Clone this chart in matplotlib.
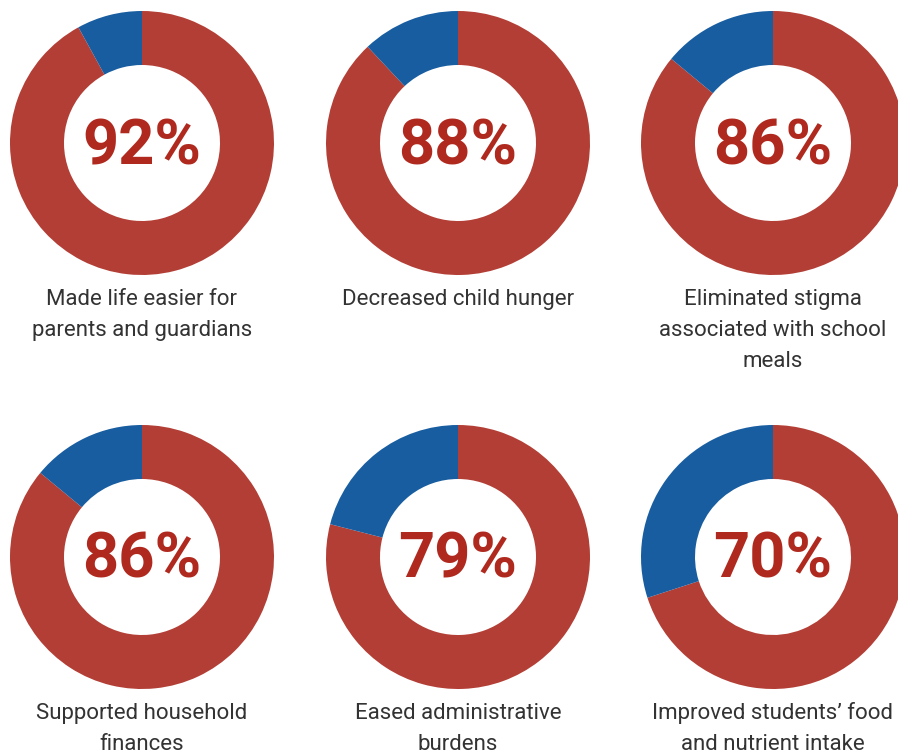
import matplotlib
matplotlib.use("Agg")
import matplotlib.pyplot as plt

plt.rcParams["font.family"] = ["Roboto", "DejaVu Sans"]

# share of respondents reporting each benefit
shares = [92, 88, 86, 86, 79, 70]
labels = [
    "Made life easier for\nparents and guardians",
    "Decreased child hunger",
    "Eliminated stigma\nassociated with school\nmeals",
    "Supported household\nfinances",
    "Eased administrative\nburdens",
    "Improved students\u2019 food\nand nutrient intake",
]

RED = "#b33e35"
BLUE = "#185da0"
PCT_COL = "#b0291e"
TXT_COL = "#333333"

W, H = 898, 753
col_x = [142, 458, 773]
row_y = [143, 557]          # pixel rows, measured from top
R_OUT, RING = 132, 54

fig = plt.figure(figsize=(W / 100, H / 100), dpi=100)
ax = fig.add_axes([0, 0, 1, 1])

for i, (v, lab) in enumerate(zip(shares, labels)):
    cx = col_x[i % 3]
    cy = H - row_y[i // 3]
    ax.pie([v, 100 - v], colors=[RED, BLUE], startangle=90, counterclock=False,
           center=(cx, cy), radius=R_OUT,
           wedgeprops=dict(width=RING, edgecolor="none", linewidth=0))
    ax.text(cx, cy - 21, f"{v}%", ha="center", va="baseline",
            fontsize=45.5, fontweight="bold", color=PCT_COL)
    # caption lines under each ring
    for k, line in enumerate(lab.split("\n")):
        ax.text(cx, cy - 162 - 31 * k, line, ha="center", va="baseline",
                fontsize=16, color=TXT_COL)

ax.set_xlim(0, W)
ax.set_ylim(0, H)
ax.set_aspect("equal")
ax.axis("off")

fig.savefig("out.png", dpi=100, facecolor="white")
